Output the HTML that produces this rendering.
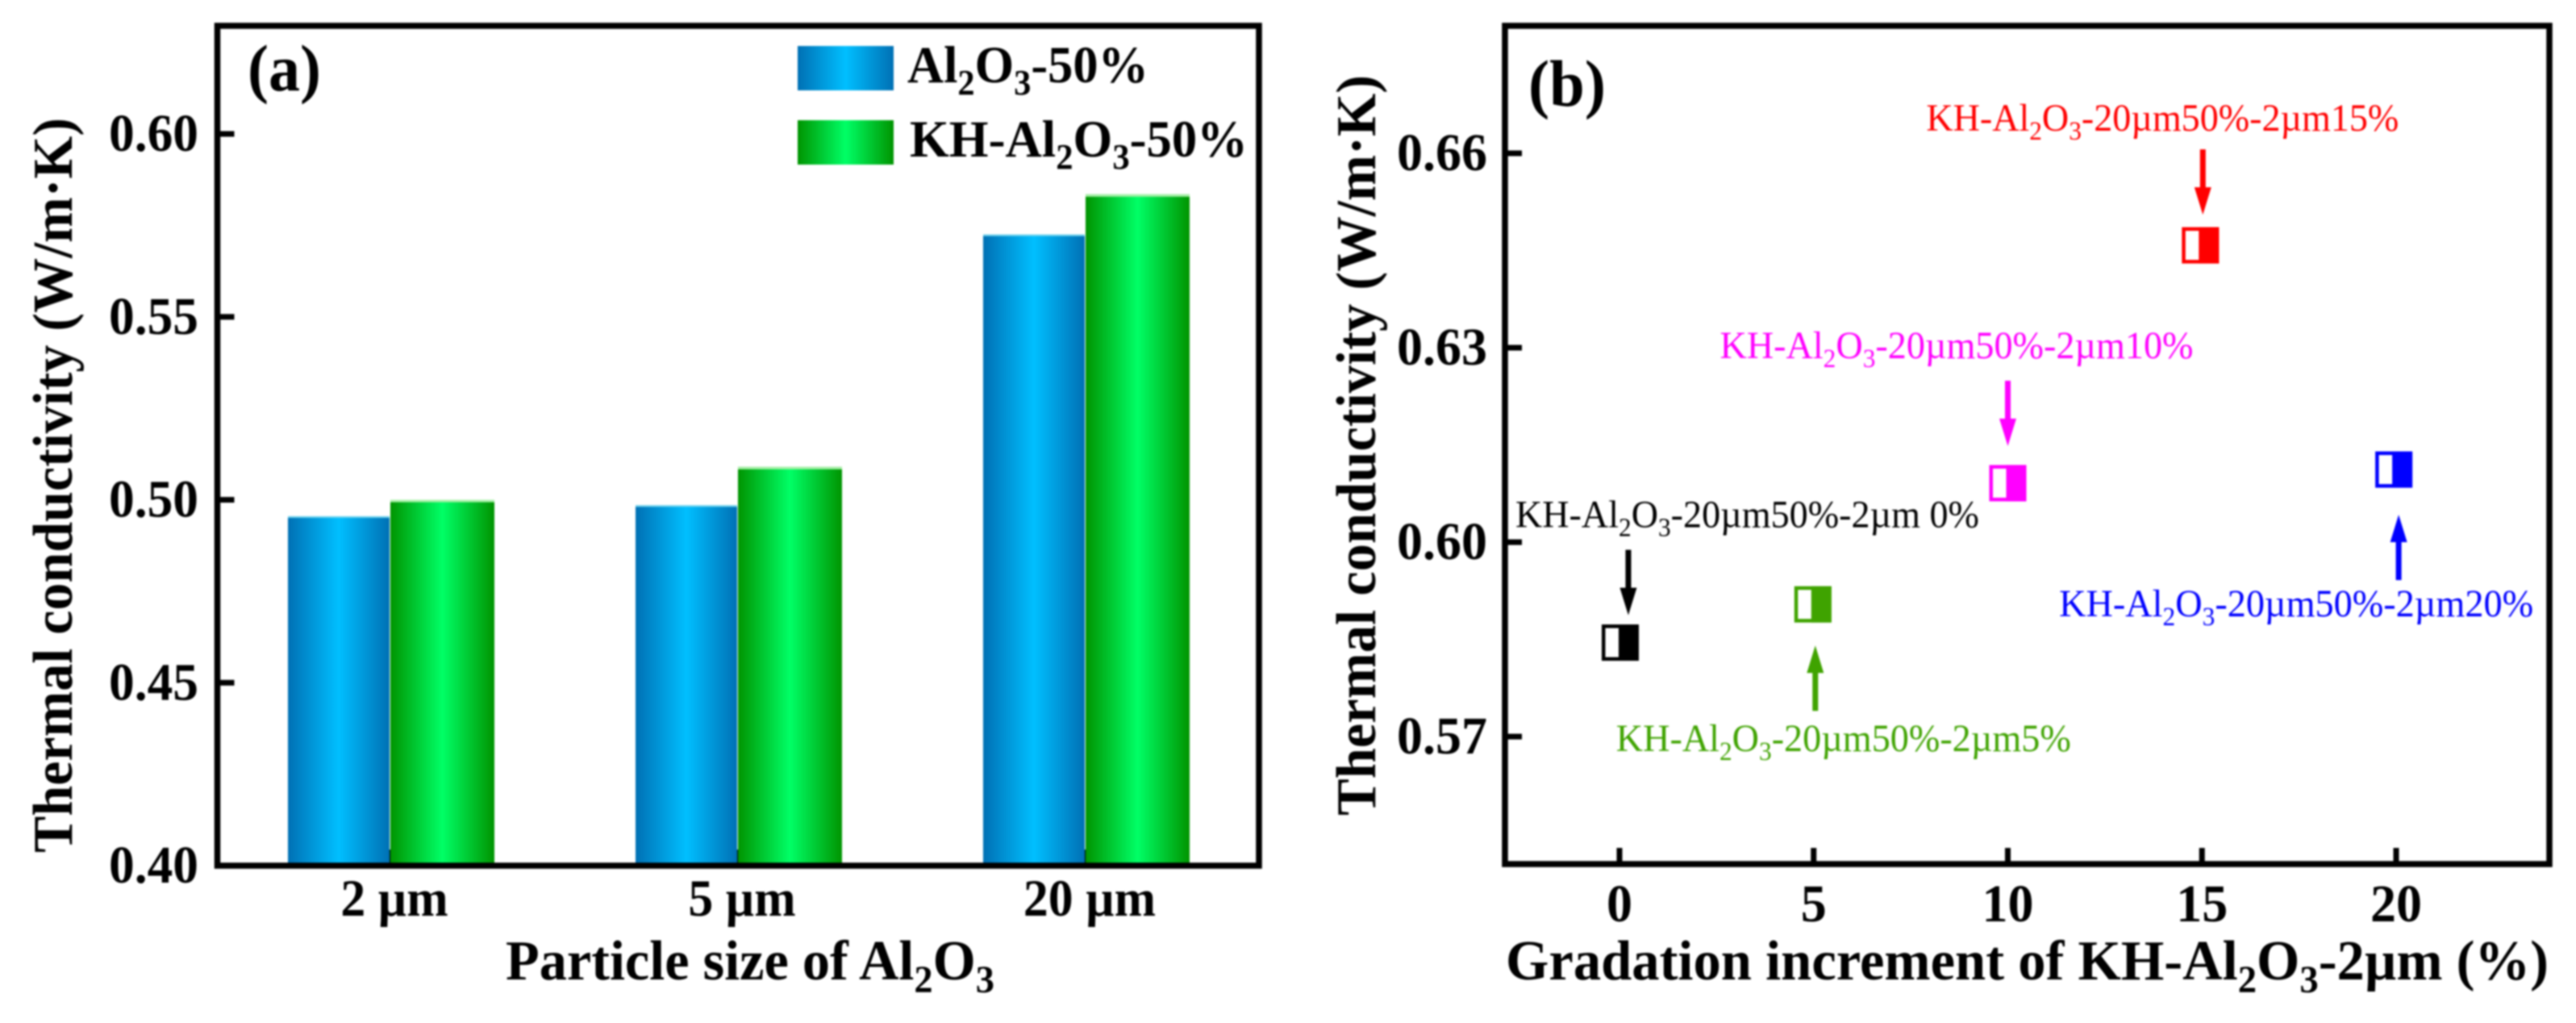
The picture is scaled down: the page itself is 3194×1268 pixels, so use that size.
<!DOCTYPE html>
<html lang="en">
<head>
<meta charset="utf-8">
<title>Thermal conductivity of Al2O3 composites</title>
<style>
html,body{margin:0;padding:0;background:#fff;}
body{width:3194px;height:1268px;overflow:hidden;}
svg{display:block;filter:blur(1px);}
text{font-family:"Liberation Serif",serif;}
</style>
</head>
<body>
<svg id="figure" xmlns="http://www.w3.org/2000/svg" width="3194" height="1268" viewBox="0 0 3194 1268">
<defs>
<linearGradient id="blueGrad" x1="0" x2="1" y1="0" y2="0">
<stop offset="0" stop-color="#0070b4"/><stop offset="0.5" stop-color="#00bfff"/><stop offset="1" stop-color="#0070b4"/>
</linearGradient>
<linearGradient id="greenGrad" x1="0" x2="1" y1="0" y2="0">
<stop offset="0" stop-color="#009400"/><stop offset="0.5" stop-color="#00ff66"/><stop offset="1" stop-color="#009400"/>
</linearGradient>
</defs>
<g id="panelA"></g>
<g id="panelB"></g>
</svg>
<script>
// Panel (a) data
const barCategories = ["2 µm", "5 µm", "20 µm"];
const seriesAl2O3 = [0.4955, 0.4985, 0.5725];
const seriesKH = [0.5, 0.509, 0.5835];
const barYTicks = ["0.40", "0.45", "0.50", "0.55", "0.60"];
const seriesNames = ["Al_2O_3-50%", "KH-Al_2O_3-50%"];

// Panel (b) data
const increments = [0.02, 4.98, 10, 14.96, 19.94];
const conductivity = [0.5845, 0.5904, 0.6091, 0.6458, 0.6112];
const pointLabels = [
  "KH-Al_2O_3-20µm50%-2µm 0%",
  "KH-Al_2O_3-20µm50%-2µm5%",
  "KH-Al_2O_3-20µm50%-2µm10%",
  "KH-Al_2O_3-20µm50%-2µm15%",
  "KH-Al_2O_3-20µm50%-2µm20%"
];
const scatterXTicks = ["0", "5", "10", "15", "20"];
const scatterYTicks = ["0.57", "0.60", "0.63", "0.66"];

const NS = "http://www.w3.org/2000/svg";
function el(tag, attrs, parent) {
  const e = document.createElementNS(NS, tag);
  for (const k in attrs) e.setAttribute(k, attrs[k]);
  parent.appendChild(e);
  return e;
}
// Writes text with "_n" rendered as a subscript digit.
function rich(node, str, size) {
  const parts = str.split(/_(\d)/);
  let shifted = false;
  parts.forEach(function (p, i) {
    if (!p) return;
    const sub = i % 2 === 1;
    const t = el("tspan", {}, node);
    if (sub) {
      t.setAttribute("font-size", size * 0.68);
      t.setAttribute("dy", size * 0.23);
      shifted = true;
    } else if (shifted) {
      t.setAttribute("dy", -size * 0.23);
      shifted = false;
    }
    t.textContent = p;
  });
}
function label(parent, str, x, y, size, opts) {
  const o = opts || {};
  const a = {
    x: x, y: y, "font-size": size,
    "font-weight": o.weight || "bold",
    fill: o.fill || "#000",
    "text-anchor": o.anchor || "start"
  };
  if (o.length) { a.textLength = o.length; a.lengthAdjust = "spacingAndGlyphs"; }
  if (o.rotate) a.transform = "rotate(-90 " + x + " " + y + ")";
  const t = el("text", a, parent);
  rich(t, str, size);
  if (o.squeeze) {
    t.setAttribute("textLength", t.getComputedTextLength() * o.squeeze);
    t.setAttribute("lengthAdjust", "spacingAndGlyphs");
  }
  return t;
}

/* ---------- Panel (a) ---------- */
(function () {
  const g = document.getElementById("panelA");
  const L = 269.5, R = 1561, T = 32, B = 1073;
  const yA = function (v) { return B - (v - 0.40) * 4535; };
  const xA = function (i) { return 485 + i * 431; };

  barCategories.forEach(function (c, i) {
    const tick = el("line", { x1: xA(i), x2: xA(i), y1: B, y2: B - 20, stroke: "#000", "stroke-width": 7 }, g);
    
    

    const t = label(g, c, xA(i) + 4, 1135, 65, { anchor: "middle", squeeze: 0.95 });
    
    
  });

  function bars(values, fill, pale, offset, barW, capH, key) {
    values.forEach(function (v, i) {
      const x = xA(i) + offset;
      const y = yA(v);
      const r = el("rect", { x: x, y: y, width: barW, height: B - y, fill: fill }, g);
      
      
      const top = el("rect", { x: x, y: y, width: barW, height: capH, fill: pale }, g);
      
      
    });
  }
  bars(seriesAl2O3, "url(#blueGrad)", "#70d4ee", -128, 126, 2, "al2o3");
  bars(seriesKH, "url(#greenGrad)", "#a8f0a8", -1, 129, 3, "kh-al2o3");

  barYTicks.forEach(function (s) {
    const v = parseFloat(s);
    const tick = el("line", { x1: L, x2: L + 21, y1: yA(v), y2: yA(v), stroke: "#000", "stroke-width": 7 }, g);
    
    

    const t = label(g, s, 246, yA(v) + 21, 66, { anchor: "end", length: 111 });
    
    
  });

  const frame = el("rect", { x: L, y: T, width: R - L, height: B - T, fill: "none", stroke: "#000", "stroke-width": 7.5 }, g);
  
  

  const tag = label(g, "(a)", 307, 112, 82, { length: 91 });
  
  

  const yt = label(g, "Thermal conductivity (W/m·K)", 89, 1057, 70, { rotate: true, length: 911 });
  
  

  const xt = label(g, "Particle size of Al_2O_3", 627, 1214, 70, { length: 606 });
  
  

  const swY = [57, 149];
  const swFill = ["url(#blueGrad)", "url(#greenGrad)"];
  const txtX = [1125, 1128];
  const txtW = [299, 419];
  seriesNames.forEach(function (n, i) {
    const s = el("rect", { x: 989, y: swY[i], width: 119, height: 55, fill: swFill[i] }, g);
    
    
    const t = label(g, n, txtX[i], swY[i] + 45, 65, { length: txtW[i] });
    
    
  });
})();

/* ---------- Panel (b) ---------- */
(function () {
  const g = document.getElementById("panelB");
  const L = 1866, R = 3161, T = 32, B = 1071;
  const xB = function (v) { return 2008 + v * 48.15; };
  const yB = function (v) { return 672 + (0.60 - v) * 8033; };
  const colors = ["#000000", "#3fa300", "#ff00ff", "#ff0000", "#0000ff"];
  // Annotation placement relative to each marker: arrow gap, arrow x shift, label dx, label dy
  const arrowDir = [-1, 1, -1, -1, 1];
  const arrowGap = [34, 51, 46, 38, 56];
  const arrowDx = [10, 3, 0, 3, 6];
  const labelDx = [-130, -244, -357, -340, -415];
  const labelDy = [-143, 182, -155, -142, 182];
  const labelW = [575, 564, 587, 586, 588];

  scatterXTicks.forEach(function (s) {
    const v = parseFloat(s);
    const tick = el("line", { x1: xB(v), x2: xB(v), y1: B, y2: B - 20, stroke: "#000", "stroke-width": 7 }, g);
    
    
    const t = label(g, s, xB(v), 1142, 66, { anchor: "middle", squeeze: 0.97 });
    
    
  });
  scatterYTicks.forEach(function (s) {
    const v = parseFloat(s);
    const tick = el("line", { x1: L, x2: L + 21, y1: yB(v), y2: yB(v), stroke: "#000", "stroke-width": 7 }, g);
    
    
    const t = label(g, s, 1844, yB(v) + 21, 66, { anchor: "end", length: 112 });
    
    
  });

  const frame = el("rect", { x: L, y: T, width: R - L, height: B - T, fill: "none", stroke: "#000", "stroke-width": 7.5 }, g);
  
  

  increments.forEach(function (xv, i) {
    const cx = xB(xv), cy = yB(conductivity[i]), c = colors[i];
    const w = 46, h = 45;
    const box = el("rect", { x: cx - w / 2 + 2.25, y: cy - h / 2 + 2.25, width: w - 4.5, height: h - 4.5, fill: "#fff", stroke: c, "stroke-width": 4.5 }, g);
    
    
    const half = el("rect", { x: cx - 2, y: cy - h / 2, width: w / 2 + 2, height: h, fill: c }, g);
    
    

    const dir = arrowDir[i];
    const ax = cx + arrowDx[i];
    const tip = cy + dir * arrowGap[i];
    const headEnd = tip + dir * 34;
    const tail = tip + dir * 81;
    const arrow = el("polygon", {
      points: [
        ax + "," + tip,
        (ax + 10.5) + "," + headEnd,
        (ax + 3.5) + "," + headEnd,
        (ax + 3.5) + "," + tail,
        (ax - 3.5) + "," + tail,
        (ax - 3.5) + "," + headEnd,
        (ax - 10.5) + "," + headEnd
      ].join(" "),
      fill: c
    }, g);
    
    

    const t = label(g, pointLabels[i], cx + labelDx[i], cy + labelDy[i], 48, { weight: "normal", fill: c, length: labelW[i] });
    
    
  });

  const tag = label(g, "(b)", 1895, 131, 82, { length: 96 });
  
  

  const yt = label(g, "Thermal conductivity (W/m·K)", 1705, 1011, 70, { rotate: true, length: 918 });
  
  

  const xt = label(g, "Gradation increment of KH-Al_2O_3-2µm (%)", 1867, 1214, 70, { length: 1293 });
  
  
})();
</script>
</body>
</html>
